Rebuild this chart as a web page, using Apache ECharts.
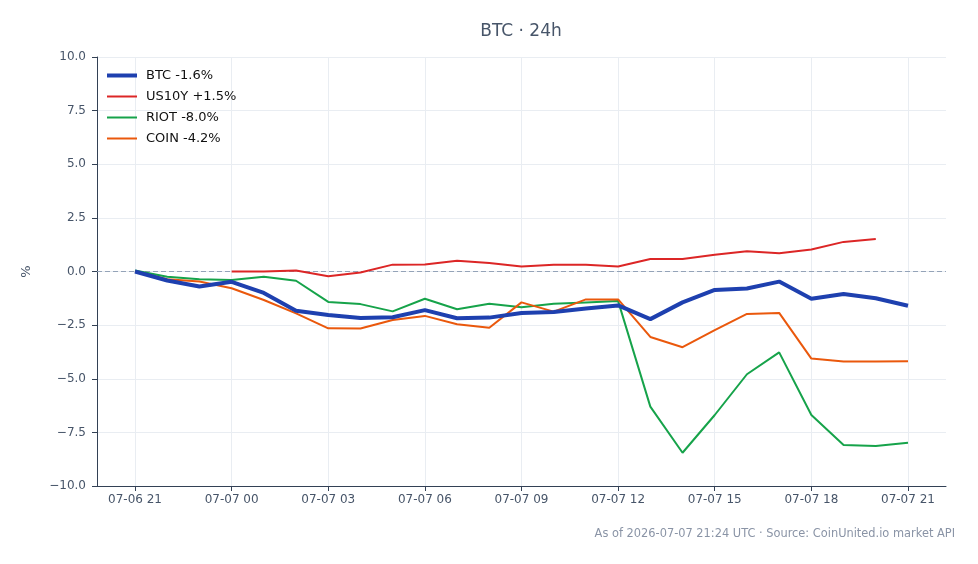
<!DOCTYPE html>
<html>
<head>
<meta charset="utf-8">
<script src="https://cdn.jsdelivr.net/npm/echarts@6/dist/echarts.min.js"></script>
<style>html,body{margin:0;padding:0;background:#fff}#c{width:978px;height:564px}</style>
</head>
<body>
<div id="c"></div>
<script>
const hours = ['07-06 21','07-06 22','07-06 23','07-07 00','07-07 01','07-07 02','07-07 03','07-07 04','07-07 05','07-07 06','07-07 07','07-07 08','07-07 09','07-07 10','07-07 11','07-07 12','07-07 13','07-07 14','07-07 15','07-07 16','07-07 17','07-07 18','07-07 19','07-07 20','07-07 21'];
const tickIndex = [0,3,6,9,12,15,18,21,24];
const btc   = [0.0,-0.42,-0.7,-0.48,-1.0,-1.83,-2.03,-2.17,-2.13,-1.8,-2.18,-2.15,-1.93,-1.89,-1.72,-1.58,-2.22,-1.44,-0.86,-0.79,-0.47,-1.27,-1.05,-1.25,-1.6];
const us10y = [null,null,null,0.0,0.0,0.05,-0.22,-0.05,0.32,0.33,0.5,0.4,0.23,0.32,0.32,0.23,0.58,0.58,0.78,0.94,0.85,1.03,1.38,1.52,null];
const riot  = [0.05,-0.24,-0.36,-0.4,-0.24,-0.43,-1.42,-1.52,-1.86,-1.27,-1.76,-1.5,-1.67,-1.5,-1.44,-1.38,-6.3,-8.45,-6.69,-4.79,-3.77,-6.69,-8.09,-8.14,-7.98];
const coin  = [0.0,-0.36,-0.47,-0.78,-1.33,-1.95,-2.65,-2.66,-2.26,-2.07,-2.46,-2.62,-1.44,-1.87,-1.3,-1.3,-3.05,-3.53,-2.73,-1.98,-1.93,-4.06,-4.2,-4.19,-4.18];
const seriesNames = ['BTC -1.6%','US10Y +1.5%','RIOT -8.0%','COIN -4.2%'];
const colors = ['#1e40af','#dc2626','#16a34a','#ea580c'];
const widths = [4,2,2,2];
const titleText = 'BTC · 24h';
const footerText = 'As of 2026-07-07 21:24 UTC · Source: CoinUnited.io market API';

const FONT = 'DejaVu Sans';
const toPts = arr => arr.map((v,i)=>[i,v]);
const allData = [btc,us10y,riot,coin];
const chart = echarts.init(document.getElementById('c'), null, {renderer:'canvas'});
const series = allData.map((d,k)=>({
  name: seriesNames[k], type:'line', data: toPts(d), showSymbol:false, symbol:'none',
  connectNulls:false, z: k===0 ? 5 : 3,
  lineStyle:{color:colors[k], width:widths[k]}, itemStyle:{color:colors[k]},
  emphasis:{disabled:true}
}));
series[0].markLine = {silent:true, symbol:'none', label:{show:false}, z:1,
  lineStyle:{color:'#94a3b8', type:[5,3], width:1}, data:[{yAxis:0}]};
chart.setOption({
  animation:false,
  backgroundColor:'#fff',
  legend:{orient:'vertical', left:107, top:69, padding:0, itemWidth:30, itemHeight:13, itemGap:8,
    textStyle:{fontFamily:FONT, fontSize:13, color:'#111', padding:[0,0,0,4]},
    data:seriesNames.map((n,k)=>({name:n, icon:'path://M0,0L30,0L30,'+widths[k]+'L0,'+widths[k]+'Z', itemStyle:{color:colors[k]}}))},
  grid:{left:97, right:32, top:57, bottom:78, containLabel:false},
  xAxis:{type:'value', min:-1.18, max:25.18,
    axisLine:{show:true, onZero:false, lineStyle:{color:'#334155', width:1}},
    axisTick:{show:true, customValues:tickIndex, length:5, lineStyle:{color:'#334155'}},
    axisLabel:{customValues:tickIndex, formatter:v=>hours[Math.round(v)], fontFamily:FONT, fontSize:12, color:'#475569', margin:8},
    splitLine:{show:true, lineStyle:{color:'#e9edf2', width:1}}},
  yAxis:{type:'value', min:-10, max:10, interval:2.5, name:'%', nameLocation:'middle', nameGap:64,
    nameTextStyle:{fontFamily:FONT, fontSize:13, color:'#475569'},
    axisLine:{show:true, onZero:false, lineStyle:{color:'#334155', width:1}},
    axisTick:{show:true, length:5, lineStyle:{color:'#334155'}},
    axisLabel:{formatter:v=>(v<0?'\u2212':'')+Math.abs(v).toFixed(1), fontFamily:FONT, fontSize:12, color:'#475569', margin:11},
    splitLine:{show:true, lineStyle:{color:'#e9edf2', width:1}}},
  graphic:[
    {type:'text', x:521, y:32, style:{text:titleText, font:'17px "DejaVu Sans"', fill:'#475569', align:'center', verticalAlign:'middle'}},
    {type:'text', right:23, top:529, style:{text:footerText, font:'11.4px "DejaVu Sans"', fill:'#8a94a6'}}],
  series
});
</script>
</body>
</html>
